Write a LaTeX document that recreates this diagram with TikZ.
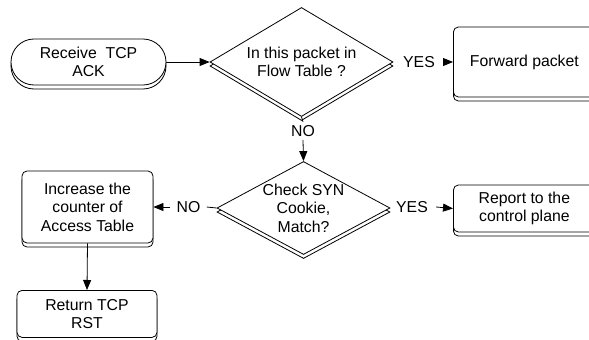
\documentclass[tikz,border=0pt]{standalone}
\usepackage{fontspec}
\setmainfont{Liberation Sans}
\usetikzlibrary{shapes.geometric,shadows,arrows.meta}

\tikzset{
  dropcopy/.style={copy shadow={shadow xshift=0pt,shadow yshift=-4pt,opacity=1,fill=white,draw=black}},
  procbox/.style={draw,fill=white,rounded corners=5pt,align=center,inner sep=0pt,dropcopy},
  startbox/.style={procbox,rounded corners=23pt},
  decision/.style={draw,fill=white,diamond,inner sep=0pt,dropcopy},
  dtext/.style={align=center},
  yesno/.style={inner sep=3pt},
  arr/.style={-{Triangle[length=10pt,width=8pt]}}
}

\begin{document}
\begin{tikzpicture}[x=1pt,y=-1pt,line width=0.8pt,
  every node/.style={font=\fontsize{15.8}{18.5}\selectfont}]
\useasboundingbox (0,0) rectangle (589,340);
%first test
\node[startbox,minimum width=155pt,minimum height=46pt] (rec) at (88.5,62) {Receive~~TCP\\ACK};
\node[decision,minimum width=183pt,minimum height=109pt,
  label={[dtext]center:In this packet in\\Flow Table ?}] (flow) at (301.5,62) {};
\node[yesno,inner xsep=8pt] (yes1) at (419,62) {YES};
\node[procbox,anchor=west,minimum width=142pt,minimum height=70pt] (fwd) at (453,62) {Forward packet};
\node[yesno] (no1) at (303,131) {NO};
%second test
\node[decision,minimum width=173pt,minimum height=93pt,
  label={[dtext]center:Check SYN\\Cookie,\\Match?}] (chk) at (303.5,208) {};
\node[yesno,inner xsep=8pt] (yes2) at (412,207) {YES};
\node[procbox,anchor=west,minimum width=142pt,minimum height=47pt] (rep) at (453,208.5) {Report to the\\control plane};
\node[yesno,inner xsep=6pt] (no2) at (188.5,207) {NO};
\node[procbox,minimum width=131pt,minimum height=72pt] (inc) at (87.5,207) {Increase the\\counter of\\Access Table};
\node[procbox,anchor=north,minimum width=140pt,minimum height=47pt] (ret) at (87,290) {Return TCP\\RST};
%connectors
\draw[arr] (rec.east) -- (flow.west);
\draw[arr] (yes1.east) -- (fwd.west);
\draw (flow.south) -- (no1.north);
\draw[arr] (no1.south) -- (chk.north);
\draw[arr] (yes2.east) -- (rep.west);
\draw (chk.west) -- (no2.east);
\draw[arr] (no2.west) -- (inc.east);
\draw[arr] (inc.south) -- (ret.north);
\end{tikzpicture}
\end{document}
